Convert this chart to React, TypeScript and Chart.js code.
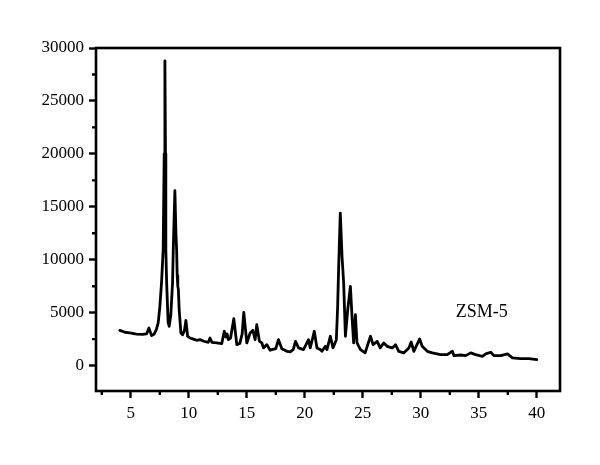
import React, { useEffect, useRef } from "react";
import { Chart, registerables } from "chart.js";

Chart.register(...registerables);

const twoTheta: number[] = [
  4.05, 4.5, 4.91, 5.5, 6.0, 6.36, 6.56, 6.79, 7.0, 7.2, 7.36, 7.5, 7.65, 7.79, 7.88, 7.94, 7.99, 8.02, 8.09, 8.22,
  8.31, 8.45, 8.6, 8.66, 8.8, 8.89, 8.95, 9.0, 9.05, 9.1, 9.17, 9.32, 9.47, 9.62, 9.75, 9.9, 10.1, 10.4, 10.68, 10.96,
  11.3, 11.68, 11.83, 12.0, 12.41, 12.84, 13.06, 13.2, 13.3, 13.41, 13.6, 13.88, 14.14, 14.4, 14.6, 14.74, 15.0, 15.29, 15.52, 15.72,
  15.86, 16.09, 16.3, 16.43, 16.73, 17.01, 17.16, 17.5, 17.73, 18.02, 18.46, 18.74, 19.0, 19.2, 19.46, 19.89, 20.32, 20.47, 20.82, 21.05,
  21.33, 21.48, 21.77, 21.91, 22.2, 22.43, 22.72, 22.83, 22.92, 23.06, 23.21, 23.35, 23.5, 23.7, 23.93, 24.07, 24.21, 24.36, 24.5, 24.8,
  25.2, 25.66, 25.89, 26.24, 26.5, 26.8, 27.1, 27.53, 27.82, 28.1, 28.53, 28.97, 29.17, 29.4, 29.9, 30.12, 30.56, 30.99, 31.7, 32.28,
  32.72, 32.86, 33.44, 33.87, 34.3, 34.73, 35.31, 35.6, 36.03, 36.3, 36.9, 37.47, 37.9, 38.6, 39.33, 40.0,
];

const intensity: number[] = [
  3330, 3150, 3080, 2980, 2950, 2990, 3550, 2830, 2950, 3400, 4030, 5500, 7830, 10940, 20000, 28790, 20000, 10940, 7830, 4050,
  3700, 4800, 7830, 10940, 16530, 12510, 10940, 8500, 7500, 7200, 5280, 3080, 2920, 3300, 4270, 2770, 2610, 2500, 2390, 2450,
  2300, 2200, 2610, 2200, 2140, 2070, 3240, 2700, 3000, 2450, 2600, 4430, 1980, 2100, 3000, 5030, 2140, 3080, 3330, 2450,
  3870, 2290, 2140, 1670, 1980, 1450, 1510, 1600, 2450, 1600, 1350, 1290, 1500, 2290, 1670, 1510, 2450, 1670, 3240, 1670,
  1510, 1350, 1820, 1510, 2770, 1670, 2450, 5500, 9370, 14400, 10310, 7800, 2770, 5280, 7480, 4650, 2140, 4810, 2140, 1510,
  1200, 2770, 1980, 2290, 1670, 2140, 1820, 1670, 1980, 1350, 1200, 1670, 2230, 1350, 2520, 1820, 1350, 1200, 1040, 1040,
  1350, 940, 1000, 940, 1200, 1040, 880, 1100, 1260, 940, 940, 1100, 730, 660, 660, 570,
];

const xMajorTicks: number[] = [5, 10, 15, 20, 25, 30, 35, 40];
const xMinorTicks: number[] = [2.5, 7.5, 12.5, 17.5, 22.5, 27.5, 32.5, 37.5];
const yMajorTicks: number[] = [0, 5000, 10000, 15000, 20000, 25000, 30000];
const yMinorTicks: number[] = [2500, 7500, 12500, 17500, 22500, 27500];

const sampleLabel = "ZSM-5";
const sampleLabelAt = { x: 35.25, y: 4600 };

const FONT = "'Liberation Serif', 'Times New Roman', serif";

export default function App() {
  const ref = useRef<HTMLCanvasElement | null>(null);

  useEffect(() => {
    if (!ref.current) return;

    const framePlugin = {
      id: "frame",
      afterDraw(chart: any) {
        const { ctx, chartArea } = chart;
        const xs = chart.scales.x;
        const ys = chart.scales.y;
        ctx.save();
        ctx.strokeStyle = "#000";
        ctx.lineWidth = 2.6;
        ctx.strokeRect(chartArea.left, chartArea.top, chartArea.right - chartArea.left, chartArea.bottom - chartArea.top);
        ctx.lineWidth = 2.4;
        ctx.beginPath();
        xMinorTicks.forEach((v) => {
          const px = xs.getPixelForValue(v);
          ctx.moveTo(px, chartArea.bottom);
          ctx.lineTo(px, chartArea.bottom + 4);
        });
        yMinorTicks.forEach((v) => {
          const py = ys.getPixelForValue(v);
          ctx.moveTo(chartArea.left, py);
          ctx.lineTo(chartArea.left - 4, py);
        });
        ctx.stroke();
        ctx.fillStyle = "#000";
        ctx.font = `18px ${FONT}`;
        ctx.textAlign = "center";
        ctx.textBaseline = "alphabetic";
        ctx.fillText(sampleLabel, xs.getPixelForValue(sampleLabelAt.x), ys.getPixelForValue(sampleLabelAt.y));
        ctx.restore();
      },
    };

    const chart = new Chart(ref.current, {
      type: "line",
      data: {
        datasets: [
          {
            data: twoTheta.map((x, i) => ({ x, y: intensity[i] })),
            borderColor: "#000",
            borderWidth: 2.8,
            borderJoinStyle: "round",
            borderCapStyle: "round",
            pointRadius: 0,
            tension: 0,
            fill: false,
          },
        ],
      },
      options: {
        animation: false,
        responsive: true,
        maintainAspectRatio: false,
        layout: { padding: { top: 48, right: 40, left: 0, bottom: 0 } },
        plugins: { legend: { display: false }, tooltip: { enabled: false } },
        scales: {
          x: {
            type: "linear",
            min: 2,
            max: 42,
            afterBuildTicks: (scale: any) => {
              scale.ticks = xMajorTicks.map((v) => ({ value: v }));
            },
            afterFit: (scale: any) => {
              scale.height = 74;
            },
            grid: {
              display: true,
              drawOnChartArea: false,
              drawTicks: true,
              tickLength: 7,
              tickWidth: 2.4,
              tickColor: "#000",
            },
            border: { display: false },
            ticks: {
              color: "#000",
              font: { family: FONT, size: 17 },
              padding: 5,
              maxRotation: 0,
              autoSkip: false,
              callback: (v: any) => String(v),
            },
          },
          y: {
            type: "linear",
            min: -2400,
            max: 30000,
            afterBuildTicks: (scale: any) => {
              scale.ticks = yMajorTicks.map((v) => ({ value: v }));
            },
            afterFit: (scale: any) => {
              scale.width = 96;
            },
            grid: {
              display: true,
              drawOnChartArea: false,
              drawTicks: true,
              tickLength: 7,
              tickWidth: 2.4,
              tickColor: "#000",
            },
            border: { display: false },
            ticks: {
              color: "#000",
              font: { family: FONT, size: 17 },
              padding: 5,
              autoSkip: false,
              callback: (v: any) => String(v),
            },
          },
        },
      },
      plugins: [framePlugin],
    });

    return () => chart.destroy();
  }, []);

  return (
    <div style={{ position: "fixed", left: 0, top: 0, width: 600, height: 465, background: "#fff" }}>
      <canvas ref={ref} />
    </div>
  );
}
